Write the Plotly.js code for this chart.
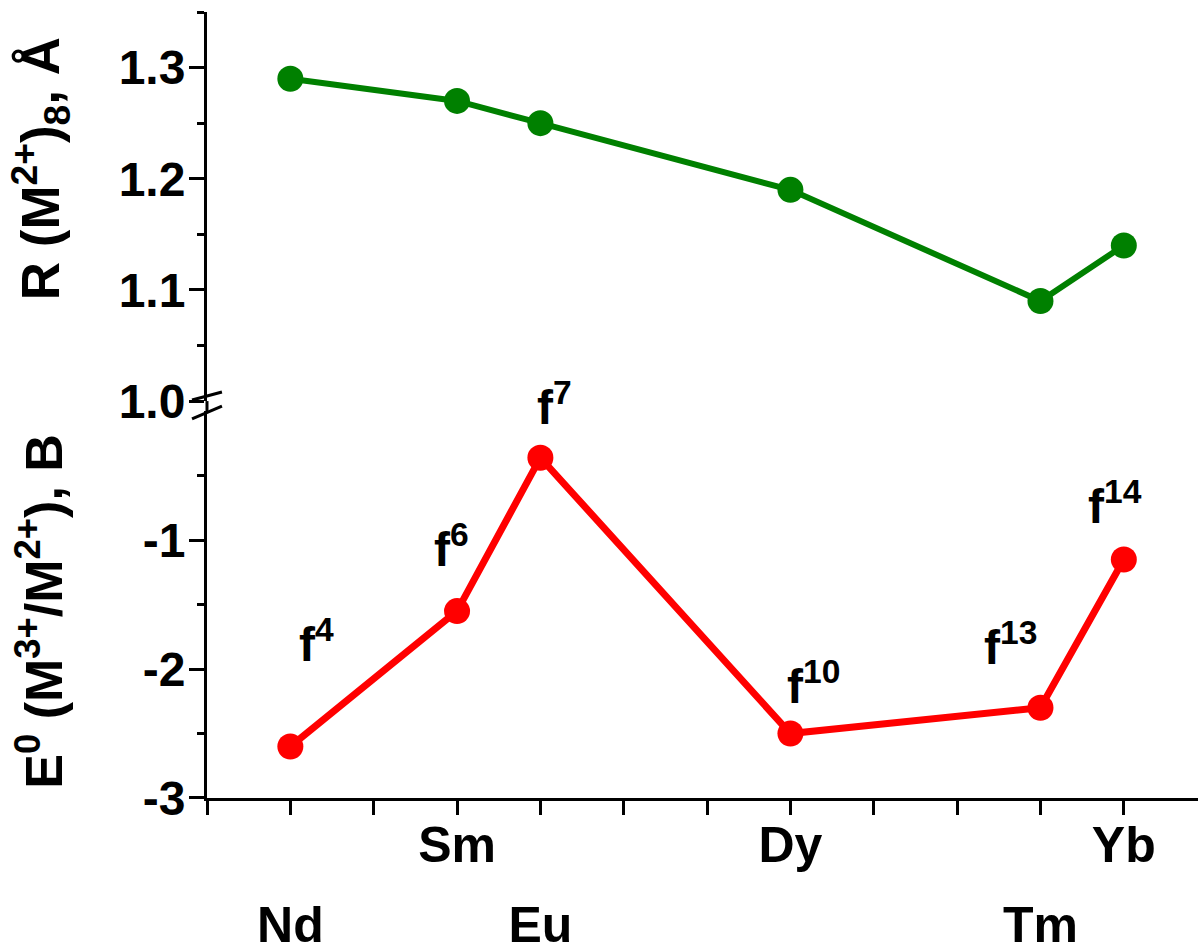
<!DOCTYPE html>
<html>
<head>
<meta charset="utf-8">
<script src="https://cdn.plot.ly/plotly-3.0.1.min.js"></script>
<style>html,body{margin:0;padding:0;background:#fff;}#chart{width:1198px;height:947px;}</style>
</head>
<body>
<div id="chart"></div>
<script>
// ---- data ----
const elements = ['Nd', 'Sm', 'Eu', 'Dy', 'Tm', 'Yb'];
const atomicNumber = [60, 62, 63, 66, 69, 70];
const ionicRadius = [1.29, 1.27, 1.25, 1.19, 1.09, 1.14];          // R(M2+)8, Å
const redoxPotential = [-2.6, -1.55, -0.36, -2.5, -2.3, -1.15];    // E0(M3+/M2+), V
const fConfig = ['f<sup>4</sup>', 'f<sup>6</sup>', 'f<sup>7</sup>', 'f<sup>10</sup>', 'f<sup>13</sup>', 'f<sup>14</sup>'];
const upperRowElements = ['Sm', 'Dy', 'Yb'];
const lowerRowElements = ['Nd', 'Eu', 'Tm'];
const radiusTicks = [1.0, 1.1, 1.2, 1.3];
const radiusMinorTicks = [1.05, 1.15, 1.25, 1.35];
const potentialTicks = [-3, -2, -1];
const potentialMinorTicks = [-2.5, -1.5, -0.5];
const xTickValues = [59, 60, 61, 62, 63, 64, 65, 66, 67, 68, 69, 70];

// ---- style ----
const FONT = 'Arial, "Liberation Sans", Helvetica, sans-serif';
const labelOffsets = [[26, 105], [-6, 65], [14, 54], [23, 51], [-30, 64], [-9, 57]];
const X_RANGE = [59, 70.89];

const posOf = name => atomicNumber[elements.indexOf(name)];

const traces = [
  {
    x: atomicNumber, y: ionicRadius, xaxis: 'x', yaxis: 'y2',
    mode: 'lines+markers', type: 'scatter',
    line: {color: '#008000', width: 6},
    marker: {color: '#008000', size: 26},
    cliponaxis: false
  },
  {
    x: atomicNumber, y: redoxPotential, xaxis: 'x2', yaxis: 'y',
    mode: 'lines+markers', type: 'scatter',
    line: {color: '#ff0000', width: 7},
    marker: {color: '#ff0000', size: 26},
    cliponaxis: false
  }
];

const axisCommon = {
  showgrid: false, zeroline: false, showline: true,
  linecolor: '#000', linewidth: 3,
  ticks: 'outside', ticklen: 15, tickwidth: 3, tickcolor: '#000'
};

const annotations = fConfig.map((t, i) => ({
  x: atomicNumber[i], y: redoxPotential[i], xref: 'x2', yref: 'y',
  text: t, showarrow: false,
  xshift: labelOffsets[i][0], yshift: labelOffsets[i][1],
  font: {family: FONT, size: 48, color: '#000', weight: 'bold'}
}));

annotations.push({
  xref: 'paper', yref: 'paper', x: 0, y: 0.8, xshift: -167,
  xanchor: 'center', yanchor: 'middle',
  text: 'R (M<sup>2+</sup>)<sub>8</sub>, Å', textangle: -90, showarrow: false,
  font: {family: FONT, size: 53, color: '#000', weight: 'bold'}
});
annotations.push({
  xref: 'paper', yref: 'paper', x: 0, y: 0.237, xshift: -167,
  xanchor: 'center', yanchor: 'middle',
  text: 'E<sup>0</sup> (M<sup>3+</sup>/M<sup>2+</sup>), B', textangle: -90, showarrow: false,
  font: {family: FONT, size: 52, color: '#000', weight: 'bold'}
});

const layout = {
  width: 1198, height: 947,
  margin: {l: 207, r: 0, t: 12, b: 149, pad: 0},
  paper_bgcolor: '#fff', plot_bgcolor: '#fff',
  showlegend: false,
  font: {family: FONT, color: '#000', weight: 'bold'},
  xaxis: Object.assign({}, axisCommon, {
    range: X_RANGE, anchor: 'y', ticklen: 14,
    tickmode: 'array', tickvals: xTickValues,
    ticktext: xTickValues.map(v => {
      const n = upperRowElements.find(e => posOf(e) === v);
      return n ? n : '';
    }),
    ticklabelstandoff: -13,
    tickfont: {family: FONT, size: 50, weight: 'bold'}
  }),
  xaxis2: {
    overlaying: 'x', anchor: 'y', side: 'bottom', range: X_RANGE,
    showgrid: false, zeroline: false, showline: false, ticks: '',
    tickmode: 'array', tickvals: lowerRowElements.map(posOf), ticktext: lowerRowElements,
    ticklabelstandoff: 93,
    tickfont: {family: FONT, size: 50, weight: 'bold'}
  },
  yaxis: Object.assign({}, axisCommon, {
    domain: [0, 0.492], range: [-3, 0], anchor: 'x',
    tickmode: 'array', tickvals: potentialTicks, ticktext: potentialTicks.map(String),
    minor: {tickmode: 'array', tickvals: potentialMinorTicks, ticks: 'outside', ticklen: 7, tickwidth: 3, tickcolor: '#000'},
    ticklabelstandoff: -6,
    tickfont: {family: FONT, size: 48, weight: 'bold'}
  }),
  yaxis2: Object.assign({}, axisCommon, {
    domain: [0.505, 1], range: [1.0, 1.35], anchor: 'x',
    tickmode: 'array', tickvals: radiusTicks, ticktext: radiusTicks.map(v => v.toFixed(1)),
    minor: {tickmode: 'array', tickvals: radiusMinorTicks, ticks: 'outside', ticklen: 7, tickwidth: 3, tickcolor: '#000'},
    ticklabelstandoff: -6,
    tickfont: {family: FONT, size: 48, weight: 'bold'}
  }),
  shapes: [
    {type: 'line', xref: 'paper', yref: 'paper', x0: 0, x1: 0, y0: 0.492, y1: 0.505, line: {color: '#000', width: 3}},
    {type: 'line', xref: 'paper', yref: 'paper', x0: -0.0151, x1: 0.0151, y0: 0.5064, y1: 0.5165, line: {color: '#000', width: 3}},
    {type: 'line', xref: 'paper', yref: 'paper', x0: -0.0151, x1: 0.0151, y0: 0.4822, y1: 0.4987, line: {color: '#000', width: 3}}
  ],
  annotations: annotations
};

Plotly.newPlot('chart', traces, layout, {displayModeBar: false, staticPlot: true});
</script>
</body>
</html>
